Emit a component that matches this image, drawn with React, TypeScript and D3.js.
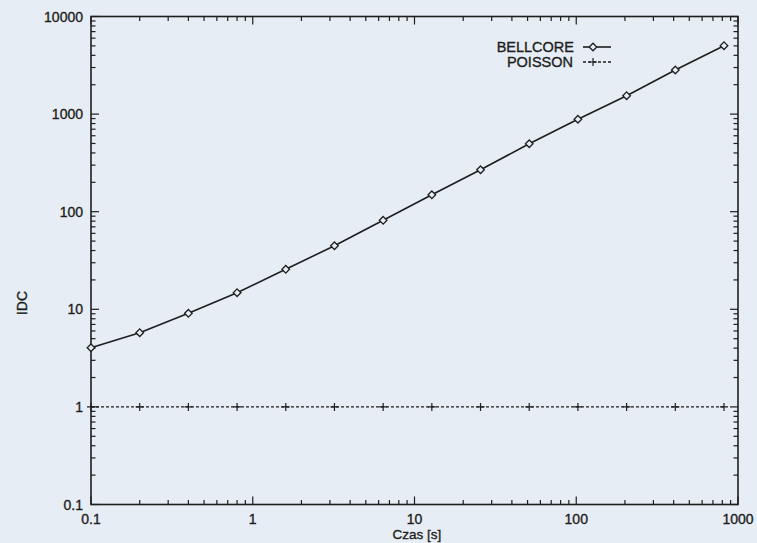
import React from "react";
import * as d3 from "d3";

const times = [0.1, 0.2, 0.4, 0.8, 1.6, 3.2, 6.4, 12.8, 25.6, 51.2, 102.4, 204.8, 409.6, 819.2];
const bellcore = [4.04, 5.76, 9.1, 14.8, 25.7, 44.8, 81.6, 149, 269, 497, 885, 1544, 2830, 5020];
const poisson = [1, 1, 1, 1, 1, 1, 1, 1, 1, 1, 1, 1, 1, 1];
const xTickLabels = ["0.1", "1", "10", "100", "1000"];
const yTickLabels = ["0.1", "1", "10", "100", "1000", "10000"];
const xTickValues = [0.1, 1, 10, 100, 1000];
const yTickValues = [0.1, 1, 10, 100, 1000, 10000];

const W = 757;
const H = 543;
const L = 91, R = 738, T = 16.5, B = 504.5;
const ink = "#1e1e1e";
const paper = "#e7edf4";
const font = "'Liberation Sans', Arial, Helvetica, sans-serif";

export default function App() {
  const x = d3.scaleLog().domain([0.1, 1000]).range([L, R]);
  const y = d3.scaleLog().domain([0.1, 10000]).range([B, T]);
  const isMajor = (v: number) => Math.abs(Math.log10(v) - Math.round(Math.log10(v))) < 1e-6;
  const xt = x.ticks();
  const yt = y.ticks();
  const line = d3
    .line<number>()
    .x((_, i) => x(times[i]))
    .y((d) => y(d));
  const major = 8, minor = 4.5;

  const diamond = (cx: number, cy: number, s: number) =>
    `M${cx},${cy - s}L${cx + s},${cy}L${cx},${cy + s}L${cx - s},${cy}Z`;
  const plus = (cx: number, cy: number, s: number) =>
    `M${cx - s},${cy}H${cx + s}M${cx},${cy - s}V${cy + s}`;

  const legX1 = 583, legX2 = 611, legM = 593;
  const leg1Y = 47, leg2Y = 62;

  return (
    <svg
      width={W}
      height={H}
      style={{ position: "absolute", left: 0, top: 0, background: paper }}
      fontFamily={font}
    >
      <rect x={0} y={0} width={W} height={H} fill={paper} />
      {/* ticks */}
      <g stroke={ink} strokeWidth={1.2}>
        {xt.map((v, i) => {
          const len = isMajor(v) ? major : minor;
          const px = x(v);
          return (
            <g key={"xt" + i}>
              <line x1={px} x2={px} y1={B} y2={B - len} />
              <line x1={px} x2={px} y1={T} y2={T + len} />
            </g>
          );
        })}
        {yt.map((v, i) => {
          const len = isMajor(v) ? major : minor;
          const py = y(v);
          return (
            <g key={"yt" + i}>
              <line x1={L} x2={L + len} y1={py} y2={py} />
              <line x1={R} x2={R - len} y1={py} y2={py} />
            </g>
          );
        })}
      </g>
      <rect x={L} y={T} width={R - L} height={B - T} fill="none" stroke={ink} strokeWidth={1.6} />
      {/* tick labels */}
      <g fill={ink} fontSize={14} stroke={ink} strokeWidth={0.35}>
        {xTickValues.map((v, i) => (
          <text key={"xl" + i} x={x(v)} y={B + 19} textAnchor="middle">
            {xTickLabels[i]}
          </text>
        ))}
        {yTickValues.map((v, i) => (
          <text key={"yl" + i} x={L - 8} y={y(v) + 5} textAnchor="end">
            {yTickLabels[i]}
          </text>
        ))}
        <text x={417} y={538.5} textAnchor="middle" fontSize={13.5}>Czas [s]</text>
        <text transform={`translate(27,${303}) rotate(-90)`} textAnchor="middle">IDC</text>
      </g>
      {/* Poisson */}
      <path d={line(poisson) || ""} fill="none" stroke={ink} strokeWidth={1.3} strokeDasharray="3,2" />
      {poisson.map((d, i) => (
        <path key={"pp" + i} d={plus(x(times[i]), y(d), 4)} stroke={ink} strokeWidth={1.2} />
      ))}
      {/* Bellcore */}
      <path d={line(bellcore) || ""} fill="none" stroke={ink} strokeWidth={1.6} />
      {bellcore.map((d, i) => (
        <path
          key={"bp" + i}
          d={diamond(x(times[i]), y(d), 3.8)}
          fill={paper}
          stroke={ink}
          strokeWidth={1.3}
        />
      ))}
      {/* legend */}
      <g fill={ink} fontSize={14.5} stroke={ink} strokeWidth={0.35}>
        <text x={574} y={leg1Y + 5} textAnchor="end">BELLCORE</text>
        <text x={573} y={leg2Y + 5} textAnchor="end">POISSON</text>
      </g>
      <line x1={legX1} x2={legX2} y1={leg1Y} y2={leg1Y} stroke={ink} strokeWidth={1.6} />
      <path d={diamond(legM, leg1Y, 3.8)} fill={paper} stroke={ink} strokeWidth={1.3} />
      <line x1={legX1} x2={legX2} y1={leg2Y} y2={leg2Y} stroke={ink} strokeWidth={1.3} strokeDasharray="3,2" />
      <path d={plus(legM, leg2Y, 4)} stroke={ink} strokeWidth={1.2} />
    </svg>
  );
}
